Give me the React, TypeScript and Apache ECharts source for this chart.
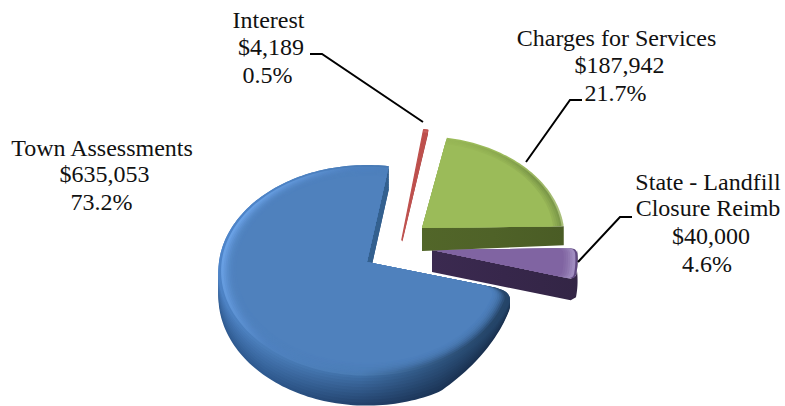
import React, { useEffect, useRef } from "react";
import * as echarts from "echarts";

// ---- data (clockwise order as drawn) ----
const categories = ["Town Assessments", "Interest", "Charges for Services", "State - Landfill Closure Reimb"];
const values = [635053, 4189, 187942, 40000];
const valueLabels = ["$635,053", "$4,189", "$187,942", "$40,000"];
const percentLabels = ["73.2%", "0.5%", "21.7%", "4.6%"];

// ---- layout, separate from the data ----
const START_ANGLE = 105.6;
const PERSPECTIVE = 0.089;
const drawOrder = [0, 3, 2, 1];

type Geo = {
  x: number; y: number; R: number; Rk: number; H0: number; H1: number;
  d0: number; d1: number; cut: number;
  outer: string[]; rim: string[]; face: string; wall: string[]; rimGrad: number[];
  rims: number[];
};
const geos: Geo[] = [
  { x: 367, y: 262, R: 148, Rk: 105.6, H0: 25, H1: 25, d0: 6, d1: 0, cut: 0.14,
    outer: ["#4f86cc", "#4a7db9", "#3f6fa6", "#244468"], rim: ["#6fa7ec", "#4f82c0", "#4a7cb4", "#264669"],
    face: "#4f81bd", wall: ["#2f5a90", "#23426c", "#182e4c"], rimGrad: [0, 0.25, 1, 0.6],
    rims: [0.982, 0.965, 0.952, 0.94, 0.928, 0.916, 0.904, 0.892, 0.88] },
  { x: 402, y: 240, R: 148, Rk: 122, H0: 2, H1: 5, d0: 0, d1: 0, cut: 0.05,
    outer: ["#c0504d", "#c0504d", "#c0504d", "#c0504d"], rim: ["#c9625f", "#c9625f", "#c9625f", "#c9625f"],
    face: "#bd4f4c", wall: ["#a04240", "#a04240", "#a04240"], rimGrad: [0, 0, 1, 0],
    rims: [0.99, 0.97] },
  { x: 422, y: 228, R: 142, Rk: 100, H0: 23, H1: 19, d0: 0, d1: 0.6, cut: 0.02,
    outer: ["#9bbb59", "#9bbb59", "#9bb661", "#a9bf7a"], rim: ["#9bbb59", "#8dab50", "#7a9648", "#7d9a4a"],
    face: "#9bbb59", wall: ["#526629", "#4f6228", "#4a5c25"], rimGrad: [0, 0, 0.7, 1],
    rims: [0.985, 0.97, 0.955, 0.94, 0.925] },
  { x: 432, y: 250, R: 145, Rk: 108, H0: 22, H1: 21, d0: 3, d1: 3, cut: 0.05,
    outer: ["#8064a2", "#8064a2", "#6f558f", "#5f4880"], rim: ["#8064a2", "#8064a2", "#9a85ba", "#a08cc0"],
    face: "#8064a2", wall: ["#3b2a50", "#37274b", "#332545"], rimGrad: [0, 0, 1, 0],
    rims: [0.985, 0.965, 0.95, 0.935, 0.92, 0.905] },
];

type LabelLine = { text: string; x: number; base: number };
const total = values.reduce((a, b) => a + b, 0);
const FONT_SIZE = 24;
const labelLines: LabelLine[] = [
  { text: categories[0], x: 102, base: 154.5 },
  { text: valueLabels[0], x: 104.5, base: 180.5 },
  { text: percentLabels[0], x: 101.5, base: 208.5 },
  { text: categories[1], x: 268.5, base: 27 },
  { text: valueLabels[1], x: 271, base: 53.5 },
  { text: percentLabels[1], x: 267.5, base: 81.5 },
  { text: categories[2], x: 616.5, base: 45 },
  { text: valueLabels[2], x: 619.5, base: 71.5 },
  { text: percentLabels[2], x: 615.5, base: 100 },
  { text: "State - Landfill", x: 708, base: 189 },
  { text: "Closure Reimb", x: 708, base: 215 },
  { text: valueLabels[3], x: 711, base: 242.5 },
  { text: percentLabels[3], x: 707, base: 270.5 },
];
const leaders = [
  [[310, 54], [322, 54], [423, 122]],
  [[582, 100], [570, 100], [526, 162]],
  [[632, 217], [620, 217], [578, 262]],
];

function project(g: Geo, a: number, r: number, h = 0): number[] {
  const rad = (a * Math.PI) / 180;
  const u = r * Math.sin(rad);
  const v = -r * Math.cos(rad);
  const s = 1 / (1 - PERSPECTIVE * v);
  return [g.x + g.R * u * s, g.y + g.Rk * v * s + h * s];
}
function quad(p0: number[], c: number[], p1: number[]): number[][] {
  const out: number[][] = [];
  for (let i = 0; i <= 10; i++) {
    const t = i / 10, m = 1 - t;
    out.push([m * m * p0[0] + 2 * m * t * c[0] + t * t * p1[0], m * m * p0[1] + 2 * m * t * c[1] + t * t * p1[1]]);
  }
  return out;
}
function facePoints(g: Geo, a0: number, a1: number, r: number): number[][] {
  const pts: number[][] = [[g.x, g.y]];
  let start = a0, end = a1;
  if (g.d0 > 0) {
    pts.push(...quad(project(g, a0, r * (1 - g.cut)), project(g, a0, r), project(g, a0 + g.d0, r)));
    start = a0 + g.d0;
  }
  if (g.d1 > 0) end = a1 - g.d1;
  const n = Math.max(2, Math.ceil((end - start) / 1.5));
  for (let i = 0; i <= n; i++) pts.push(project(g, start + ((end - start) * i) / n, r));
  if (g.d1 > 0) pts.push(...quad(project(g, end, r), project(g, a1, r), project(g, a1, r * (1 - g.cut))));
  return pts;
}
function wall(g: Geo, list: number[][]): number[][] {
  const h = (r: number) => g.H0 + (g.H1 - g.H0) * r;
  const top = list.map(([a, r]) => project(g, a, r));
  const bot = list.map(([a, r]) => project(g, a, r, h(r))).reverse();
  return top.concat(bot);
}
function lerpColor(a: string, b: string, t: number): string {
  const p = (c: string, i: number) => parseInt(c.slice(1 + i * 2, 3 + i * 2), 16);
  const parts = [0, 1, 2].map((i) => Math.round(p(a, i) + (p(b, i) - p(a, i)) * t));
  return `rgb(${parts.join(",")})`;
}
function grad(c: number[], colors: string[]) {
  return new echarts.graphic.LinearGradient(c[0], c[1], c[2], c[3],
    colors.map((color, i) => ({ offset: i / (colors.length - 1), color })));
}

function renderItem(params: any, api: any) {
  const idx = drawOrder[params.dataIndex];
  const g = geos[idx];
  let before = START_ANGLE;
  for (let i = 0; i < idx; i++) before += (values[i] / total) * 360;
  const a0 = before;
  const a1 = before + (api.value(0) / total) * 360;
  const children: any[] = [];
  const poly = (points: number[][], fill: any, opacity = 1) =>
    children.push({ type: "polygon", shape: { points }, style: { fill, opacity, lineWidth: 0 } });

  if (idx === 0) {
    // rounded edge: the sector repeated downward, colour easing from the wall to the rim
    const steps = 9;
    const wallStops = [g.wall[0], g.wall[0], g.wall[1], g.wall[2]];
    for (let i = 0; i <= steps; i++) {
      const t = i / steps;
      const h = g.H0 * (1 - t);
      const stops = wallStops.map((c, k) => lerpColor(c, g.outer[k], t));
      const pts = facePoints(g, a0, a1, 1).map((p) => {
        const s = 1 / (1 - PERSPECTIVE * ((p[1] - g.y) / g.Rk));
        const taper = p[0] > 440 ? 1 - (0.75 * (p[0] - 440)) / 75 : 1;
        return [p[0], p[1] + h * s * taper];
      });
      poly(pts, grad(g.rimGrad, stops));
    }
    poly(wall(g, [[a1, 1], [a1, 0]]), "#33608f");
  } else if (idx === 3) {
    const list: number[][] = [];
    for (let a = a0 + 1; a <= a1 - 1; a += 1.5) list.push([a, 1]);
    list.push([a1, 0.97], [a1, 0]);
    poly(wall(g, list), grad([0, 0, 1, 0], g.wall));
  } else {
    poly(wall(g, [[a1, 1], [a1, 0]]), grad([0, 0, 1, 0], g.wall));
  }

  if (idx === 1) {
    children.push({
      type: "polygon",
      shape: { points: facePoints(g, a0, a1, 0.995).slice(0) },
      style: { fill: g.face, stroke: g.face, lineWidth: 1.6, lineJoin: "round" },
    });
  }
  poly(facePoints(g, a0, a1, 1), grad(g.rimGrad, g.outer));
  const rims = g.rims;
  poly(facePoints(g, a0, a1, rims[0]), grad(g.rimGrad, g.rim));
  for (let i = 1; i < rims.length; i++) {
    const alpha = i === rims.length - 1 ? 1 : 0.15 + (0.5 * i) / rims.length;
    poly(facePoints(g, a0, a1, rims[i]), g.face, alpha);
  }
  return { type: "group", children };
}

export default function App() {
  const ref = useRef<HTMLDivElement>(null);
  useEffect(() => {
    const chart = echarts.init(ref.current!, null, { renderer: "svg" });
    chart.setOption({
      animation: false,
      backgroundColor: "#ffffff",
      series: [
        {
          type: "custom",
          coordinateSystem: "none",
          silent: true,
          renderItem,
          data: drawOrder.map((i) => ({ name: categories[i], value: [values[i]] })),
          z: 2,
        },
      ],
      graphic: [
        ...leaders.map((points) => ({
          type: "polyline",
          z: 5,
          shape: { points },
          style: { stroke: "#000000", lineWidth: 2, fill: "none" },
        })),
        ...labelLines.map((l) => ({
          type: "text",
          z: 6,
          x: l.x,
          y: l.base - FONT_SIZE * 0.29,
          style: {
            text: l.text,
            fill: "#111111",
            font: `${FONT_SIZE}px "Liberation Serif", serif`,
            textAlign: "center",
            textVerticalAlign: "middle",
          },
        })),
      ],
    });
    return () => chart.dispose();
  }, []);
  return <div ref={ref} style={{ position: "fixed", left: 0, top: 0, width: 785, height: 406 }} />;
}
